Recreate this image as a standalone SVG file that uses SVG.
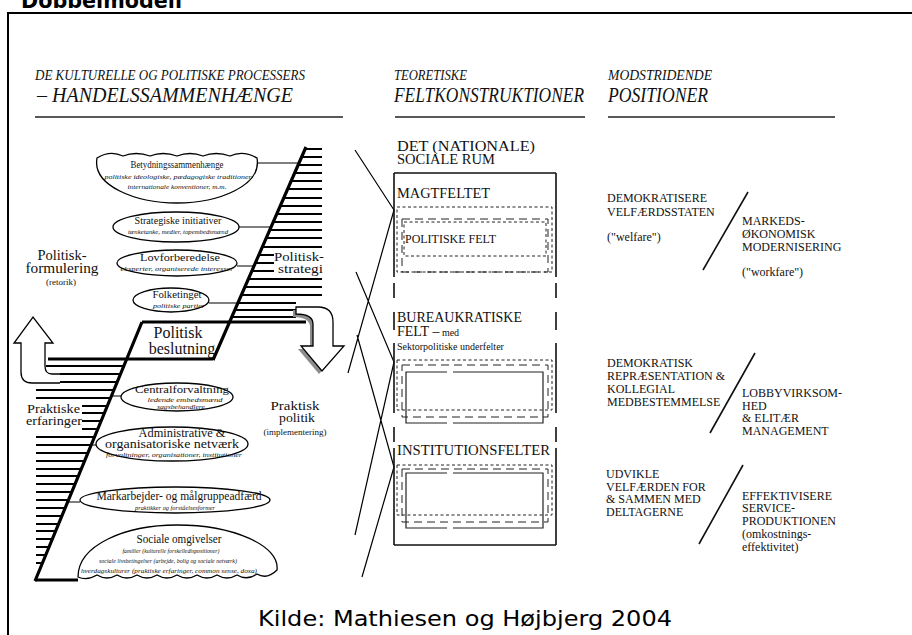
<svg xmlns="http://www.w3.org/2000/svg" width="912" height="635" viewBox="0 0 912 635">
<defs>
<style>
.s{font-family:"Liberation Serif","Times New Roman",serif;fill:#111}
.it{font-style:italic}
.sub{font-family:"Liberation Serif","Times New Roman",serif;font-style:italic;font-size:7px;fill:#111}
.h{stroke:#000;stroke-width:2;fill:none}
.hb{stroke:#000;stroke-width:3;fill:none}
.thin{stroke:#000;stroke-width:1.2;fill:none}
.node{fill:#fff;stroke:#000;stroke-width:1.3}
.sd{stroke:#222;stroke-width:1;fill:none;stroke-dasharray:3 2.5}
.ld{stroke:#222;stroke-width:1;fill:none;stroke-dasharray:8 5}
.sol{stroke:#222;stroke-width:1.2;fill:none}
.r{font-family:"Liberation Serif","Times New Roman",serif;font-size:12px;fill:#111}
.mid{text-anchor:middle}
</style>
</defs>
<rect x="0" y="0" width="912" height="635" fill="#fff"/>
<text x="21" y="8" font-family="DejaVu Sans, Verdana, sans-serif" font-weight="bold" font-size="21" textLength="161" lengthAdjust="spacingAndGlyphs" fill="#000">Dobbelmodell</text>
<rect x="8" y="13" width="930" height="640" fill="none" stroke="#000" stroke-width="2"/>

<!-- headings -->
<g id="headings">
<text class="s it" x="35" y="80" font-size="14" textLength="270" lengthAdjust="spacingAndGlyphs">DE KULTURELLE OG POLITISKE PROCESSERS</text>
<text class="s it" x="37" y="102" font-size="21" textLength="256" lengthAdjust="spacingAndGlyphs">– HANDELSSAMMENHÆNGE</text>
<line x1="35" y1="117" x2="343" y2="117" stroke="#222" stroke-width="1.6"/>
<text class="s it" x="394" y="80" font-size="14" textLength="73" lengthAdjust="spacingAndGlyphs">TEORETISKE</text>
<text class="s it" x="394" y="102" font-size="21" textLength="190" lengthAdjust="spacingAndGlyphs">FELTKONSTRUKTIONER</text>
<line x1="395" y1="117" x2="585" y2="117" stroke="#222" stroke-width="1.6"/>
<text class="s it" x="608" y="80" font-size="14" textLength="104" lengthAdjust="spacingAndGlyphs">MODSTRIDENDE</text>
<text class="s it" x="608" y="102" font-size="21" textLength="100" lengthAdjust="spacingAndGlyphs">POSITIONER</text>
<line x1="608" y1="117" x2="835" y2="117" stroke="#222" stroke-width="1.6"/>
</g>

<!-- ladder -->
<g id="ladder">
<path class="h" d="M305.6,149H322M302.1,157H322M298.5,165H322M295,173H322M291.5,181H322M288,189H322M284.1,198H322M280.6,206H322M277,214H322M273.5,222H322M270,230H322M266.5,238H322M262.6,247H322M259.1,255H322M255.5,263H322M252,271H322M248.5,279H322M245,287H322M241.5,295H322M238,303H296M234.9,310H296M231.9,317H296"/>
<path class="hb" d="M142,322H306M48,359H213"/>
<path class="h" d="M123.8,366H46M120.4,374H60M117.1,382H60M113.8,390H36M110.5,398H36M107.2,406H36M104.3,413H36M101,421H36M97.6,429H36M94.3,437H36M91,445H36M87.7,453H36M84.4,461H36M81,469H36M78.1,476H36M74.8,484H36M71.5,492H36M68.2,500H36M64.9,508H36M61.5,516H36M58.2,524H36M55.3,531H36M52,539H36M48.7,547H36M45.4,555H36M42.1,563H36"/>
<path class="hb" d="M35,580H78"/>
<path stroke="#000" stroke-width="3.2" fill="none" d="M306,147L213,360M142,322L35,581"/>
</g>

<!-- connectors -->
<g id="connectors">
<path class="thin" d="M257,163H299.4M238,227H271.3M237,266H254.2M209,303H238M111.3,396H121M91,445H96M67.4,502H80"/>
<path class="thin" d="M355,150L394,210L348,373M356,272L394,362L355,535M357,335L394,467L362,577"/>
</g>

<!-- nodes -->
<g id="n-betydning">
<path class="node" d="M97,158Q110,150 123,156Q136,151 150,156Q163,151 177,156Q190,151 203,156Q216,151 230,156Q243,150 257,158C262,186 218,203 177,203C136,203 92,186 97,158Z"/>
<text class="s mid" x="177" y="168" font-size="9.5" textLength="93" lengthAdjust="spacingAndGlyphs">Betydningssammenhænge</text>
<text class="sub mid" x="178" y="179" textLength="147" lengthAdjust="spacingAndGlyphs">politiske ideologiske, pædagogiske traditioner</text>
<text class="sub mid" x="177" y="189" textLength="99" lengthAdjust="spacingAndGlyphs">internationale konventioner, m.m.</text>
</g>
<g id="n-strategiske">
<ellipse class="node" cx="176" cy="227" rx="63" ry="15"/>
<text class="s mid" x="178" y="224" font-size="10.5" textLength="87" lengthAdjust="spacingAndGlyphs">Strategiske initiativer</text>
<text class="sub mid" x="178" y="234" textLength="100" lengthAdjust="spacingAndGlyphs">tænketanke, medier, topembedsmænd</text>
</g>
<g id="n-lov">
<ellipse class="node" cx="177" cy="263" rx="60" ry="13"/>
<text class="s mid" x="180" y="261" font-size="11" textLength="80" lengthAdjust="spacingAndGlyphs">Lovforberedelse</text>
<text class="sub mid" x="177" y="271" textLength="113" lengthAdjust="spacingAndGlyphs">eksperter, organiserede interesser</text>
</g>
<g id="n-folketinget">
<ellipse class="node" cx="171" cy="300" rx="38" ry="12"/>
<text class="s mid" x="177" y="298" font-size="11" textLength="49" lengthAdjust="spacingAndGlyphs">Folketinget</text>
<text class="sub mid" x="179" y="308" textLength="52" lengthAdjust="spacingAndGlyphs">politiske partier</text>
</g>
<g id="n-beslutning">
<text class="s mid" x="178" y="338" font-size="16">Politisk</text>
<text class="s mid" x="182" y="354" font-size="16">beslutning</text>
</g>
<g id="n-central">
<ellipse class="node" cx="177" cy="397" rx="56" ry="14"/>
<text class="s mid" x="182" y="393" font-size="11" textLength="94" lengthAdjust="spacingAndGlyphs">Centralforvaltning</text>
<text class="sub mid" x="185" y="401.5" textLength="75" lengthAdjust="spacingAndGlyphs">ledende embedsmænd</text>
<text class="sub mid" x="181" y="408.5" textLength="48" lengthAdjust="spacingAndGlyphs">sagsbehandlere</text>
</g>
<g id="n-admin">
<ellipse class="node" cx="172" cy="444" rx="76" ry="17"/>
<text class="s mid" x="182" y="437" font-size="11.5" textLength="87" lengthAdjust="spacingAndGlyphs">Administrative &amp;</text>
<text class="s mid" x="172" y="448" font-size="11.5" textLength="134" lengthAdjust="spacingAndGlyphs">organisatoriske netværk</text>
<text class="sub mid" x="174" y="457" textLength="136" lengthAdjust="spacingAndGlyphs">forvaltninger, organisationer, institutioner</text>
</g>
<g id="n-markarbejder">
<ellipse class="node" cx="175" cy="500" rx="95" ry="13"/>
<text class="s mid" x="179" y="500" font-size="12" textLength="165" lengthAdjust="spacingAndGlyphs">Markarbejder- og målgruppeadfærd</text>
<text class="sub mid" x="175" y="510" textLength="80" lengthAdjust="spacingAndGlyphs">praktikker og forståelsesformer</text>
</g>
<g id="n-sociale">
<path class="node" d="M78,577C78,545 125,525 177,525C232,525 280,545 277,570Q267,580 257,574Q247,581 237,575Q227,581 217,575Q207,581 197,575Q187,581 177,575Q167,581 157,575Q147,581 137,575Q127,581 117,575Q107,581 97,575Q87,581 78,577Z"/>
<text class="s mid" x="179" y="543" font-size="11.5" textLength="85" lengthAdjust="spacingAndGlyphs">Sociale omgivelser</text>
<text class="sub mid" x="171" y="553" textLength="97" lengthAdjust="spacingAndGlyphs">familier (kulturelle forskelledispositioner)</text>
<text class="sub mid" x="168" y="563" textLength="138" lengthAdjust="spacingAndGlyphs">sociale livsbetingelser (arbejde, bolig og sociale netværk)</text>
<text class="sub mid" x="169" y="573" textLength="176" lengthAdjust="spacingAndGlyphs">hverdagskulturer (praktiske erfaringer, common sense, doxa)</text>
</g>

<!-- side labels -->
<g id="l-formulering">
<text class="s mid" x="62" y="260" font-size="14.5">Politisk-</text>
<text class="s mid" x="62" y="273" font-size="14.5" textLength="73" lengthAdjust="spacingAndGlyphs">formulering</text>
<text class="s mid" x="61" y="285" font-size="9">(retorik)</text>
</g>
<g id="l-strategi">
<rect x="274" y="250" width="50" height="25" fill="#fff"/>
<text class="s" x="274" y="261" font-size="13" textLength="50" lengthAdjust="spacingAndGlyphs">Politisk-</text>
<text class="s" x="278" y="273" font-size="13" textLength="45" lengthAdjust="spacingAndGlyphs">strategi</text>
</g>
<g id="l-erfaringer">
<rect x="24" y="403" width="58" height="27" fill="#fff"/>
<text class="s" x="27" y="413" font-size="13" textLength="53" lengthAdjust="spacingAndGlyphs">Praktiske</text>
<text class="s" x="26" y="425" font-size="13" textLength="56" lengthAdjust="spacingAndGlyphs">erfaringer</text>
</g>
<g id="l-praktisk">
<text class="s mid" x="295" y="410" font-size="13.5" textLength="49" lengthAdjust="spacingAndGlyphs">Praktisk</text>
<text class="s mid" x="297" y="422" font-size="13.5" textLength="36" lengthAdjust="spacingAndGlyphs">politik</text>
<text class="s mid" x="295" y="435" font-size="9">(implementering)</text>
</g>

<!-- arrows -->
<g id="arrow-up">
<path class="node" d="M60,374L52,374Q45,374 45,366L45,343L53,343L33,317L14,343L21,343L21,372Q21,383 32,383L60,383"/>
</g>
<g id="arrow-down">
<path fill="#8c8c8c" d="M293,310L315,310Q330,310 330,325L330,349L341,349L319,374L298,349L310,349L310,327Q310,317 293,317Z"/>
<path class="node" stroke-width="1.2" d="M296,307L318,307Q333,307 333,322L333,346L344,346L322,371L301,346L313,346L313,324Q313,314 296,314Z"/>
</g>

<!-- center field construction -->
<g id="n-socialerum">
<text class="s" x="397" y="151" font-size="14.5" textLength="138" lengthAdjust="spacingAndGlyphs">DET (NATIONALE)</text>
<text class="s" x="397" y="164" font-size="14.5">SOCIALE RUM</text>
<path stroke="#111" stroke-width="1.6" fill="none" d="M394,173H556M394,545H556M394,173V277M556,173V277M394,283V298M556,283V298M394,312V330M556,312V330M394,343V413M556,343V413M394,427V442M556,427V442M394,448V545M556,448V545"/>
</g>
<g id="n-magtfeltet">
<text class="s" x="397" y="198" font-size="14" textLength="93" lengthAdjust="spacingAndGlyphs">MAGTFELTET</text>
<rect class="sd" x="397" y="207" width="155" height="65"/>
<rect class="ld" x="402" y="219" width="146" height="53"/>
<rect class="sd" x="404" y="222" width="142" height="34"/>
<text class="s" x="405" y="243" font-size="12" textLength="91" lengthAdjust="spacingAndGlyphs">POLITISKE FELT</text>
</g>
<g id="n-bureau">
<text class="s" x="397" y="322" font-size="14" textLength="125" lengthAdjust="spacingAndGlyphs">BUREAUKRATISKE</text>
<text class="s" x="397" y="336" font-size="14">FELT –<tspan font-size="10"> med</tspan></text>
<text class="s" x="397" y="350" font-size="10">Sektorpolitiske underfelter</text>
<rect class="sd" x="397" y="360" width="155" height="50"/>
<rect class="ld" x="402" y="365" width="146" height="52"/>
<path class="sol" d="M447,372H406V423H447M453,372H543V423H453"/>
</g>
<g id="n-institution">
<text class="s" x="397" y="455" font-size="14" textLength="153" lengthAdjust="spacingAndGlyphs">INSTITUTIONSFELTER</text>
<rect class="sd" x="397" y="465" width="155" height="50"/>
<rect class="ld" x="402" y="469" width="146" height="53"/>
<path class="sol" d="M447,473H406V528H447M453,473H543V528H453"/>
</g>

<!-- positions -->
<g id="p-welfare">
<text class="r" x="607" y="202">DEMOKRATISERE</text>
<text class="r" x="607" y="216">VELFÆRDSSTATEN</text>
<text class="r" x="607" y="241">("welfare")</text>
</g>
<g id="p-workfare">
<text class="r" x="742" y="225">MARKEDS-</text>
<text class="r" x="742" y="238">ØKONOMISK</text>
<text class="r" x="742" y="251">MODERNISERING</text>
<text class="r" x="742" y="276">("workfare")</text>
</g>
<g id="p-demokratisk">
<text class="r" x="607" y="367">DEMOKRATISK</text>
<text class="r" x="607" y="380">REPRÆSENTATION &amp;</text>
<text class="r" x="607" y="393">KOLLEGIAL</text>
<text class="r" x="607" y="406">MEDBESTEMMELSE</text>
</g>
<g id="p-lobby">
<text class="r" x="742" y="397">LOBBYVIRKSOM-</text>
<text class="r" x="742" y="410">HED</text>
<text class="r" x="742" y="422">&amp; ELITÆR</text>
<text class="r" x="742" y="435">MANAGEMENT</text>
</g>
<g id="p-udvikle">
<text class="r" x="606" y="478">UDVIKLE</text>
<text class="r" x="606" y="491">VELFÆRDEN FOR</text>
<text class="r" x="606" y="503">&amp; SAMMEN MED</text>
<text class="r" x="606" y="516">DELTAGERNE</text>
</g>
<g id="p-effektiv">
<text class="r" x="742" y="500">EFFEKTIVISERE</text>
<text class="r" x="742" y="512">SERVICE-</text>
<text class="r" x="742" y="525">PRODUKTIONEN</text>
<text class="r" x="742" y="538">(omkostnings-</text>
<text class="r" x="742" y="551">effektivitet)</text>
</g>
<g id="slashes">
<path stroke="#111" stroke-width="1.6" fill="none" d="M748,192L703,270M755,353L710,433M743,465L699,544"/>
</g>

<text x="465" y="626" text-anchor="middle" font-family="DejaVu Sans, Verdana, sans-serif" font-size="22" textLength="414" lengthAdjust="spacingAndGlyphs" fill="#000">Kilde: Mathiesen og Højbjerg 2004</text>
</svg>
